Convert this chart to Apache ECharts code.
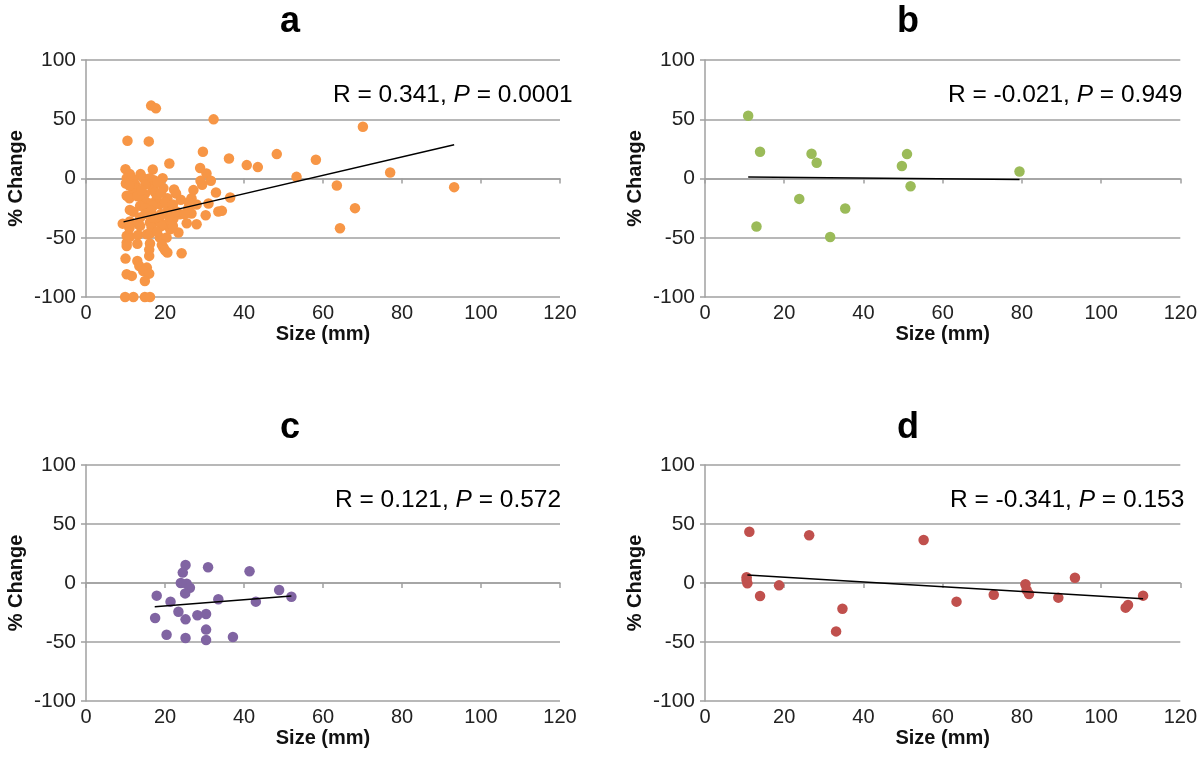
<!DOCTYPE html>
<html>
<head>
<meta charset="utf-8">
<script src="https://cdn.jsdelivr.net/npm/echarts@6/dist/echarts.min.js"></script>
<style>
html,body{margin:0;padding:0;background:#fff;}
#chart{width:1200px;height:766px;}
</style>
</head>
<body>
<div id="chart"></div>
<script>
// ---------- data ----------
const panelTitles = ['a', 'b', 'c', 'd'];
const xTicks = [0, 20, 40, 60, 80, 100, 120];
const yTicks = [-100, -50, 0, 50, 100];
const xAxisTitle = 'Size (mm)';
const yAxisTitle = '% Change';

const statsR = ['0.341', '-0.021', '0.121', '-0.341'];
const statsP = ['0.0001', '0.949', '0.572', '0.153'];

// Panel a
const aSize = [16.5,17.7,32.3,10.5,15.9,29.6,36.2,21.1,10.0,16.9,28.9,30.5,31.6,29.4,11.1,13.8,10.3,11.6,12.0,14.5,
  16.2,17.2,19.4,10.1,12.4,16.2,17.2,19.6,22.3,16.9,12.0,27.2,22.8,32.9,10.3,14.9,17.5,11.0,20.6,26.7,
  14.3,17.9,36.5,15.4,16.6,18.7,31.0,17.0,13.7,11.1,14.9,20.8,25.9,21.7,16.5,26.7,33.5,34.4,23.8,30.3,
  18.7,13.7,21.3,9.3,11.1,13.2,16.2,18.7,22.1,25.5,28.0,20.4,13.7,16.6,19.2,21.3,10.3,11.1,13.2,15.4,
  16.2,18.7,20.4,23.4,10.3,10.3,16.2,19.6,19.2,20.0,20.6,24.2,10.0,16.0,13.0,13.5,15.4,14.5,10.3,11.6,
  16.0,14.9,9.9,12.0,14.9,16.2,
  40.7,43.5,48.3,53.3,58.2,63.5,64.3,68.1,70.1,77.0,93.2,
  12.5,13.0,15.0,18.0,19.0,20.0,21.0,22.0,23.0,24.0,17.0,18.0,19.0,15.0,14.0,12.0,11.0,13.0,16.0,22.0,
  25.0,26.0,28.0,29.0,11.0];
const aChange = [61.5,59.2,49.9,31.9,31.3,22.6,16.9,12.7,7.9,7.6,8.8,4.3,-1.9,-5.3,3.7,3.7,0.3,0.3,-1.9,0.3,
  0.3,-1.4,0.3,-4.2,-4.8,-4.8,-6.2,-8.1,-9.3,-9.3,-10.4,-9.8,-12.7,-11.8,-14.6,-13.2,-11.8,-16.6,-16.6,-16.6,
  -17.4,-17.4,-16.0,-20.3,-21.1,-21.7,-21.1,-23.1,-23.1,-26.5,-25.0,-25.9,-25.0,-27.3,-27.3,-29.6,-27.9,-27.3,-30.1,-31.0,
  -31.5,-32.9,-30.7,-38.1,-36.3,-38.6,-37.2,-37.2,-34.3,-37.8,-38.6,-38.6,-40.0,-41.4,-40.0,-42.8,-48.4,-49.0,-47.6,-47.0,
  -46.5,-49.8,-49.8,-45.6,-54.1,-56.9,-54.9,-58.3,-56.0,-60.6,-62.5,-63.1,-67.6,-65.3,-69.6,-73.8,-75.2,-78.0,-80.8,-82.2,
  -80.3,-86.5,-100,-100,-100,-100,
  11.3,9.6,20.6,1.4,15.8,-5.9,-42.0,-25.0,43.7,5.1,-7.3,
  -8,-15,-5,-3,-12,-20,-32,-22,-28,-18,-33,-45,-30,-30,-10,-28,-42,-55,-60,-40,
  -30,-20,-22,-2,-6];
const aFit = [[9.5, -36.6], [93.2, 28.5]];

// Panel b
const bSize = [10.9,13.9,13.0,23.8,26.9,28.2,31.6,35.4,49.7,51.0,51.9,79.4];
const bChange = [53.0,22.6,-40.5,-17.2,20.9,13.3,-49.3,-25.3,10.5,20.6,-6.5,5.9];
const bFit = [[10.9, 1.2], [79.4, -0.8]];

// Panel c
const cSize = [25.2,30.9,41.4,24.5,24.0,25.5,26.3,25.1,48.9,17.9,52.0,33.5,43.0,21.4,23.4,17.5,28.2,30.4,25.2,30.4,20.4,25.2,30.4,37.2];
const cChange = [15.3,13.3,9.9,8.8,0.0,-0.6,-4.0,-8.8,-5.9,-10.7,-11.6,-13.8,-15.8,-15.8,-24.3,-29.7,-27.4,-26.3,-30.8,-39.5,-43.8,-46.6,-48.3,-45.8];
const cFit = [[17.4, -20.1], [52.0, -11.0]];

// Panel d
const dSize = [11.2,26.3,55.2,10.5,10.5,10.7,18.7,13.9,34.7,33.1,63.5,72.9,80.9,81.2,81.8,89.2,93.4,106.2,106.8,110.6];
const dChange = [43.5,40.4,36.4,4.8,2.5,-0.3,-2.0,-11.0,-21.8,-41.0,-15.8,-9.9,-1.1,-5.9,-9.3,-12.4,4.5,-20.9,-18.6,-10.7];
const dFit = [[10.7, 6.8], [110.6, -13.3]];

const colors = ['#F79646', '#9BBB59', '#8064A2', '#C0504D'];

// ---------- chart ----------
const zip = (xs, ys) => xs.map((x, i) => [x, ys[i]]);
const panels = [
  {x: aSize, y: aChange, fit: aFit},
  {x: bSize, y: bChange, fit: bFit},
  {x: cSize, y: cChange, fit: cFit},
  {x: dSize, y: dChange, fit: dFit}
];
const grids = [
  {left: 86, top: 60, width: 474, height: 237},
  {left: 705, top: 60, width: 476, height: 237},
  {left: 86, top: 465, width: 474, height: 236},
  {left: 705, top: 465, width: 476, height: 236}
];
const FONT = '"Liberation Sans", Arial, Helvetica, sans-serif';
const gridColor = '#A0A0A0';

const option = {
  backgroundColor: '#fff',
  animation: false,
  textStyle: {fontFamily: FONT},
  grid: grids,
  xAxis: grids.map((g, i) => ({
    gridIndex: i, type: 'value', min: xTicks[0], max: xTicks[xTicks.length - 1], interval: 20,
    name: xAxisTitle, nameLocation: 'middle', nameGap: 27,
    nameTextStyle: {fontFamily: FONT, fontSize: 20, fontWeight: 'bold', color: '#111'},
    axisLine: {show: true, lineStyle: {color: gridColor, width: 1.5}},
    axisTick: {show: true, length: 5, lineStyle: {color: gridColor, width: 1.5}},
    axisLabel: {fontFamily: FONT, fontSize: 20, color: '#222', margin: 6},
    splitLine: {show: false}
  })),
  yAxis: grids.map((g, i) => ({
    gridIndex: i, type: 'value', min: yTicks[0], max: yTicks[yTicks.length - 1], interval: 50,
    name: yAxisTitle, nameLocation: 'middle', nameGap: 60, nameRotate: 90,
    nameTextStyle: {fontFamily: FONT, fontSize: 20, fontWeight: 'bold', color: '#111'},
    axisLine: {show: true, lineStyle: {color: gridColor, width: 1.5}},
    axisTick: {show: true, length: 5, lineStyle: {color: gridColor, width: 1.5}},
    axisLabel: {fontFamily: FONT, fontSize: 21, color: '#222', margin: 10},
    splitLine: {show: true, lineStyle: {color: gridColor, width: 1.5}}
  })),
  series: [],
  graphic: []
};

panels.forEach((p, i) => {
  option.series.push({
    type: 'scatter', xAxisIndex: i, yAxisIndex: i,
    data: zip(p.x, p.y), symbol: 'circle', symbolSize: 10.5,
    itemStyle: {color: colors[i], opacity: 1}, z: 3
  });
  option.series.push({
    type: 'line', xAxisIndex: i, yAxisIndex: i,
    data: p.fit, symbol: 'none', silent: true,
    lineStyle: {color: '#000', width: 1.5}, z: 4
  });
});

const titlePos = [[290, 22], [908, 22], [290, 428], [908, 428]];
const statPos = [[333, 95], [948, 95], [335, 500], [950, 500]];
panelTitles.forEach((t, i) => {
  option.graphic.push({
    type: 'text', x: titlePos[i][0], y: titlePos[i][1],
    style: {text: t, fontFamily: '"Liberation Sans Narrow", "Liberation Sans", Arial, sans-serif',
      fontSize: 36, fontWeight: 'bold', fill: '#000', align: 'center', verticalAlign: 'middle'}
  });
  option.graphic.push({
    type: 'text', x: statPos[i][0], y: statPos[i][1],
    style: {
      text: '{r|R = ' + statsR[i] + ', }{p|P}{r| = ' + statsP[i] + '}',
      align: 'left', verticalAlign: 'middle',
      rich: {
        r: {fontFamily: FONT, fontSize: 24.5, fill: '#000'},
        p: {fontFamily: FONT, fontSize: 24.5, fontStyle: 'italic', fill: '#000'}
      }
    }
  });
});

const chart = echarts.init(document.getElementById('chart'), null, {renderer: 'canvas'});
chart.setOption(option);
</script>
</body>
</html>
